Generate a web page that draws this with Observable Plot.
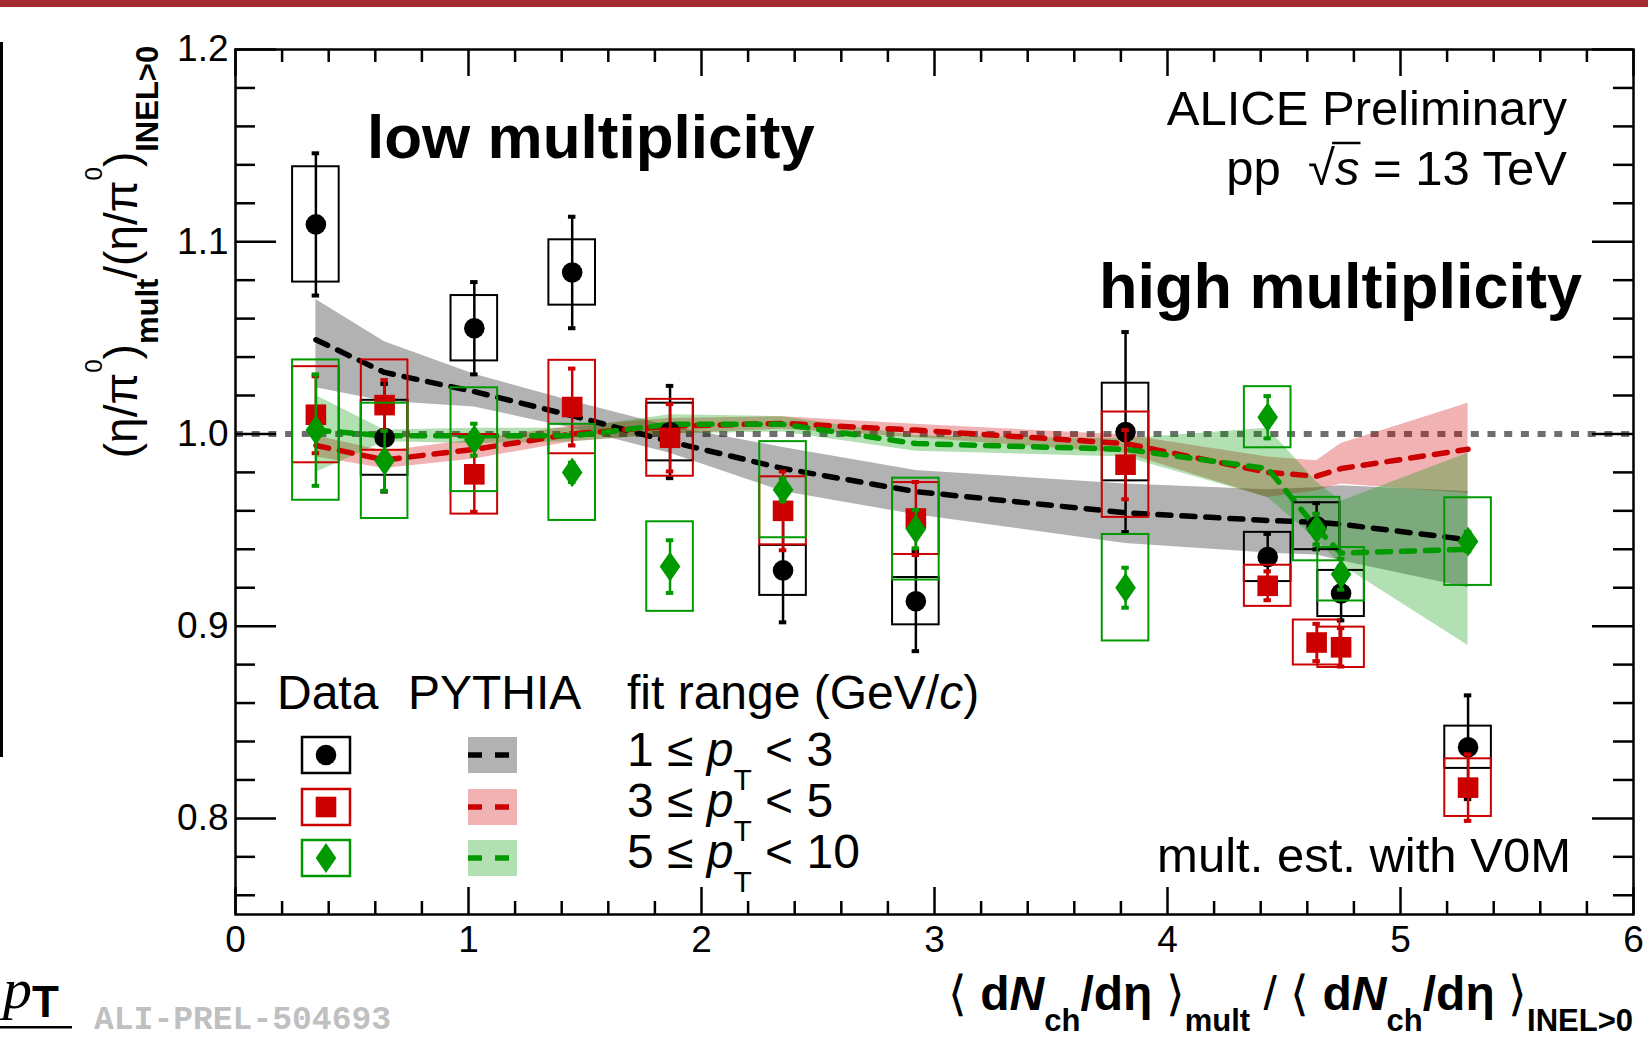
<!DOCTYPE html>
<html><head><meta charset="utf-8">
<script src="https://cdn.jsdelivr.net/npm/d3@7"></script>
<script src="https://cdn.jsdelivr.net/npm/@observablehq/plot@0.6"></script>
<style>
html,body{margin:0;padding:0;background:#fff;overflow:hidden;}
svg text{white-space:pre;}
</style></head><body>
<script>
// ---------- data ----------
const mult = [0.345, 0.64, 1.025, 1.445, 1.865, 2.35, 2.92, 3.82, 4.43, 4.64, 4.745, 5.29];

// data 1 <= pT < 3
const data13 = [1.109, 0.998, 1.055, 1.084, 1.001, 0.929, 0.913, 1.001, 0.936, 0.952, 0.917, 0.837];
const data13Stat = [0.037, 0.028, 0.024, 0.029, 0.024, 0.027, 0.026, 0.052, 0.012, 0.012, 0.014, 0.027];
const data13Sys = [0.030, 0.0195, 0.017, 0.017, 0.015, 0.013, 0.0123, 0.0254, 0.0128, 0.0122, 0.012, 0.011];
// data 3 <= pT < 5
const data35 = [1.010, 1.015, 0.979, 1.014, 0.998, 0.960, 0.956, 0.984, 0.921, 0.8915, 0.889, 0.816];
const data35Stat = [0.020, 0.013, 0.0195, 0.020, 0.0175, 0.0205, 0.019, 0.018, 0.0075, 0.0097, 0.010, 0.0173];
const data35Sys = [0.025, 0.0235, 0.0207, 0.0243, 0.020, 0.0177, 0.0187, 0.0274, 0.0107, 0.0117, 0.0105, 0.015];
// data 5 <= pT < 10
const data510 = [1.002, 0.986, 0.997, 0.980, 0.931, 0.971, 0.9505, 0.920, 1.0087, 0.9505, 0.927, 0.944];
const data510Stat = [0.029, 0.0156, 0.0083, 0.005, 0.0137, 0.006, 0.010, 0.0104, 0.011, 0.008, 0.008, 0.005];
const data510Sys = [0.0365, 0.030, 0.027, 0.025, 0.0233, 0.025, 0.0265, 0.0277, 0.0159, 0.0165, 0.0139, 0.0228];

// PYTHIA curves and bands
const pythia13 = [1.049, 1.032, 1.022, 1.0095, 0.996, 0.982, 0.970, 0.959, 0.955, 0.954, 0.953, 0.945];
const pythia13Lo = [1.024, 1.017, 1.014, 1.003, 0.990, 0.970, 0.958, 0.943, 0.938, 0.937, 0.934, 0.920];
const pythia13Hi = [1.070, 1.048, 1.031, 1.017, 1.004, 0.993, 0.981, 0.974, 0.971, 0.972, 0.973, 0.970];
const pythia35 = [0.994, 0.9865, 0.992, 1.000, 1.004, 1.0055, 1.002, 0.995, 0.980, 0.978, 0.982, 0.992];
const pythia35Lo = [0.988, 0.982, 0.987, 0.996, 1.000, 1.0025, 0.998, 0.990, 0.967, 0.9705, 0.974, 0.969];
const pythia35Hi = [0.999, 0.991, 0.997, 1.004, 1.008, 1.009, 1.005, 0.9995, 0.988, 0.986, 0.995, 1.016];
const pythia510 = [1.002, 0.999, 0.999, 0.999, 1.005, 1.005, 0.995, 0.992, 0.982, 0.951, 0.938, 0.940];
const pythia510Lo = [0.980, 0.996, 0.995, 0.996, 1.000, 1.001, 0.991, 0.988, 0.967, 0.945, 0.932, 0.890];
const pythia510Hi = [1.020, 1.002, 1.003, 1.003, 1.010, 1.009, 0.999, 0.9975, 1.003, 0.975, 0.965, 0.990];

const seriesNames = ["1 ≤ pT < 3", "3 ≤ pT < 5", "5 ≤ pT < 10"];
const xTicks = [0, 1, 2, 3, 4, 5, 6];
const xTickLabels = ["0", "1", "2", "3", "4", "5", "6"];
const yTicks = [0.8, 0.9, 1.0, 1.1, 1.2];
const yTickLabels = ["0.8", "0.9", "1.0", "1.1", "1.2"];
const xMinorTicks = d3.range(0, 31).map(i => i / 5).filter((v, i) => i % 5 !== 0);
const yMinorTicks = d3.range(38, 60).filter(i => i % 5 !== 0).map(i => i / 50);

// ---------- style ----------
const FONT = "'Liberation Sans', Arial, Helvetica, sans-serif";
const colors = ["#000000", "#cc0000", "#009900"];
const bandColors = ["#000000", "#cc0000", "#009900"];
const W = 1648, H = 1051, mL = 235, mR = 15, mT = 49, mB = 137;
const plotW = W - mL - mR, plotH = H - mT - mB;
const boxHalf = 0.1, capHalf = 0.016, markR = 10.3;

const squareSym = {draw(ctx, size) { const r = Math.sqrt(size / Math.PI); ctx.rect(-r, -r, 2 * r, 2 * r); }};
const diamondSym = {draw(ctx, size) { const r = Math.sqrt(size / Math.PI); const h = r * 1.45;
  ctx.moveTo(0, -h); ctx.lineTo(r, 0); ctx.lineTo(0, h); ctx.lineTo(-r, 0); ctx.closePath(); }};
const symbols = ["circle", squareSym, diamondSym];

const dataSets = [
  {y: data13, stat: data13Stat, sys: data13Sys},
  {y: data35, stat: data35Stat, sys: data35Sys},
  {y: data510, stat: data510Stat, sys: data510Sys}
];
const pythiaSets = [
  {y: pythia13, lo: pythia13Lo, hi: pythia13Hi},
  {y: pythia35, lo: pythia35Lo, hi: pythia35Hi},
  {y: pythia510, lo: pythia510Lo, hi: pythia510Hi}
];

const dataRows = dataSets.map((s, k) => mult.map((x, i) => ({series: seriesNames[k], x, y: s.y[i], stat: s.stat[i], sys: s.sys[i]})));
const pythiaRows = pythiaSets.map((s, k) => mult.map((x, i) => ({series: seriesNames[k], x, y: s.y[i], lo: s.lo[i], hi: s.hi[i]})));

const marks = [];
marks.push(Plot.ruleY([1], {stroke: "#6e6e6e", strokeWidth: 6, strokeDasharray: "8,8.7"}));
pythiaRows.forEach((rows, k) => marks.push(Plot.areaY(rows, {x: "x", y1: "lo", y2: "hi", fill: bandColors[k], fillOpacity: 0.3})));
pythiaRows.forEach((rows, k) => marks.push(Plot.line(rows, {x: "x", y: "y", stroke: colors[k], strokeWidth: 5.5, strokeDasharray: "13,11"})));
dataRows.forEach((rows, k) => {
  const c = colors[k];
  marks.push(Plot.rect(rows, {x1: d => d.x - boxHalf, x2: d => d.x + boxHalf, y1: d => d.y - d.sys, y2: d => d.y + d.sys, fill: "none", stroke: c, strokeWidth: 2}));
  marks.push(Plot.ruleX(rows, {x: "x", y1: d => d.y - d.stat, y2: d => d.y + d.stat, stroke: c, strokeWidth: 2.5}));
  marks.push(Plot.ruleY(rows, {y: d => d.y + d.stat, x1: d => d.x - capHalf, x2: d => d.x + capHalf, stroke: c, strokeWidth: 4}));
  marks.push(Plot.ruleY(rows, {y: d => d.y - d.stat, x1: d => d.x - capHalf, x2: d => d.x + capHalf, stroke: c, strokeWidth: 4}));
  marks.push(Plot.dot(rows, {x: "x", y: "y", r: markR, symbol: symbols[k], fill: c, stroke: "none"}));
});
// frame and ROOT-style inner ticks
marks.push(Plot.frame({stroke: "#000", strokeWidth: 2.5}));
const tk = {stroke: "#000", strokeWidth: 2.5};
marks.push(Plot.ruleX(xTicks, {x: d => d, insetTop: plotH - 27, ...tk}));
marks.push(Plot.ruleX(xTicks, {x: d => d, insetBottom: plotH - 27, ...tk}));
marks.push(Plot.ruleX(xMinorTicks, {x: d => d, insetTop: plotH - 13, ...tk}));
marks.push(Plot.ruleX(xMinorTicks, {x: d => d, insetBottom: plotH - 13, ...tk}));
marks.push(Plot.ruleY(yTicks, {y: d => d, insetRight: plotW - 41, ...tk}));
marks.push(Plot.ruleY(yTicks, {y: d => d, insetLeft: plotW - 41, ...tk}));
marks.push(Plot.ruleY(yMinorTicks, {y: d => d, insetRight: plotW - 20, ...tk}));
marks.push(Plot.ruleY(yMinorTicks, {y: d => d, insetLeft: plotW - 20, ...tk}));
marks.push(Plot.text(xTicks, {x: d => d, text: (d, i) => xTickLabels[i], frameAnchor: "bottom", lineAnchor: "top", dy: 11, fontSize: 37, fill: "#000"}));
marks.push(Plot.text(yTicks, {y: d => d, text: (d, i) => yTickLabels[i], frameAnchor: "left", textAnchor: "end", dx: -7, fontSize: 37, fill: "#000"}));

const chart = Plot.plot({
  width: W, height: H,
  marginLeft: mL, marginRight: mR, marginTop: mT, marginBottom: mB,
  x: {domain: [0, 6], axis: null},
  y: {domain: [0.75, 1.2], axis: null},
  style: {fontFamily: FONT, fontSize: "37px", background: "#fff", overflow: "visible", color: "#000"},
  marks
});
document.body.appendChild(chart);

// ---------- annotations ----------
const svg = d3.select(chart);
const ann = svg.append("g").attr("font-family", FONT).attr("fill", "#000");
function addText(x, y, segs, o = {}) {
  const t = ann.append("text").attr("x", x).attr("y", y)
    .attr("text-anchor", o.anchor || "start").attr("font-size", o.size || 48)
    .attr("font-weight", o.weight || "normal").attr("fill", o.fill || "#000");
  if (o.family) t.attr("font-family", o.family);
  if (o.rotate != null) t.attr("transform", `rotate(${o.rotate},${x},${y})`);
  for (const s of segs) {
    if (typeof s === "string") { t.append("tspan").text(s); continue; }
    const ts = t.append("tspan").text(s.t);
    if (s.size) ts.attr("font-size", s.size);
    if (s.weight) ts.attr("font-weight", s.weight);
    if (s.style) ts.attr("font-style", s.style);
    if (s.dy) ts.attr("dy", s.dy);
    if (s.family) ts.attr("font-family", s.family);
    if (s.id) ts.attr("id", s.id);
  }
  return t;
}

// page decorations
ann.append("rect").attr("x", 0).attr("y", 0).attr("width", W).attr("height", 7).attr("fill", "#a32b2f");
ann.append("rect").attr("x", 0).attr("y", 42).attr("width", 3).attr("height", 715).attr("fill", "#000");

addText(367, 158, ["low multiplicity"], {size: 62, weight: "bold"});
addText(1582, 308, ["high multiplicity"], {size: 63, weight: "bold", anchor: "end"});
addText(1567, 125, ["ALICE Preliminary"], {size: 49, anchor: "end"});
addText(1567, 185, ["pp  ", {t: "√", id: "sqrtSign"}, {t: "s", style: "italic", id: "sqrtArg"}, " = 13 TeV"], {size: 49, anchor: "end"});
// radical bar over s
{
  const sb = document.getElementById("sqrtSign").getBBox();
  const ab = document.getElementById("sqrtArg").getBBox();
  ann.append("line").attr("x1", sb.x + sb.width - 3).attr("x2", ab.x + ab.width + 1)
    .attr("y1", 143).attr("y2", 143).attr("stroke", "#000").attr("stroke-width", 2.5);
}
addText(1571, 872, ["mult. est. with V0M"], {size: 49, anchor: "end"});

// legend
addText(277, 709, ["Data"], {size: 48});
addText(408, 709, ["PYTHIA"], {size: 48});
addText(627, 709, ["fit range (GeV/", {t: "c", style: "italic"}, ")"], {size: 48});
const legRows = [
  {lo: "1", hi: "3", cy: 755, base: 766},
  {lo: "3", hi: "5", cy: 807, base: 817},
  {lo: "5", hi: "10", cy: 858, base: 868}
];
legRows.forEach((r, k) => {
  const c = colors[k];
  ann.append("rect").attr("x", 302).attr("y", r.cy - 18).attr("width", 48).attr("height", 36)
    .attr("fill", "none").attr("stroke", c).attr("stroke-width", 2.5);
  if (k === 0) ann.append("circle").attr("cx", 326).attr("cy", r.cy).attr("r", markR).attr("fill", c);
  if (k === 1) ann.append("rect").attr("x", 326 - markR).attr("y", r.cy - markR).attr("width", 2 * markR).attr("height", 2 * markR).attr("fill", c);
  if (k === 2) ann.append("path").attr("d", `M326,${r.cy - 15}L${326 + markR},${r.cy}L326,${r.cy + 15}L${326 - markR},${r.cy}Z`).attr("fill", c);
  ann.append("rect").attr("x", 468).attr("y", r.cy - 18).attr("width", 49).attr("height", 36)
    .attr("fill", bandColors[k]).attr("fill-opacity", 0.3);
  ann.append("line").attr("x1", 468).attr("x2", 511).attr("y1", r.cy).attr("y2", r.cy)
    .attr("stroke", c).attr("stroke-width", 5.5).attr("stroke-dasharray", "14,13");
  addText(627, r.base, [r.lo + " ≤ ", {t: "p", style: "italic"}, {t: "T", size: 30, dy: 24}, {t: " < " + r.hi, dy: -24}], {size: 48});
});

// axis titles
addText(1633, 1010, [
  {t: "⟨ ", weight: "normal"}, "d", {t: "N", style: "italic"}, {t: "ch", size: 31, dy: 21}, {t: "/dη ", dy: -21}, {t: "⟩", weight: "normal"},
  {t: "mult", size: 31, dy: 21}, {t: " / ", dy: -21, weight: "normal"}, {t: "⟨ ", weight: "normal"}, "d", {t: "N", style: "italic"},
  {t: "ch", size: 31, dy: 21}, {t: "/dη ", dy: -21}, {t: "⟩", weight: "normal"}, {t: "INEL>0", size: 31, dy: 21}
], {size: 48, weight: "bold", anchor: "end"});

addText(137, 252, [
  "(η/π", {t: "0", size: 24, dy: -35}, {t: ")", dy: 35},
  {t: "mult", size: 31, weight: "bold", dy: 21}, {t: "/(η/π", dy: -21},
  {t: "0", size: 24, dy: -35}, {t: ")", dy: 35},
  {t: "INEL>0", size: 31, weight: "bold", dy: 21}
], {size: 46, anchor: "middle", rotate: -90});

// footer marks
addText(3, 1008, [{t: "p", style: "italic", family: "'Liberation Serif', 'Times New Roman', serif", size: 58}, {t: "T", weight: "bold", size: 44, dy: 9}], {size: 48});
ann.append("rect").attr("x", 0).attr("y", 1026).attr("width", 72).attr("height", 2.5).attr("fill", "#000");
addText(94, 1029, ["ALI-PREL-504693"], {size: 33, weight: "bold", family: "'Liberation Mono', 'Courier New', monospace", fill: "#c0c0c0"});
</script>
</body></html>
